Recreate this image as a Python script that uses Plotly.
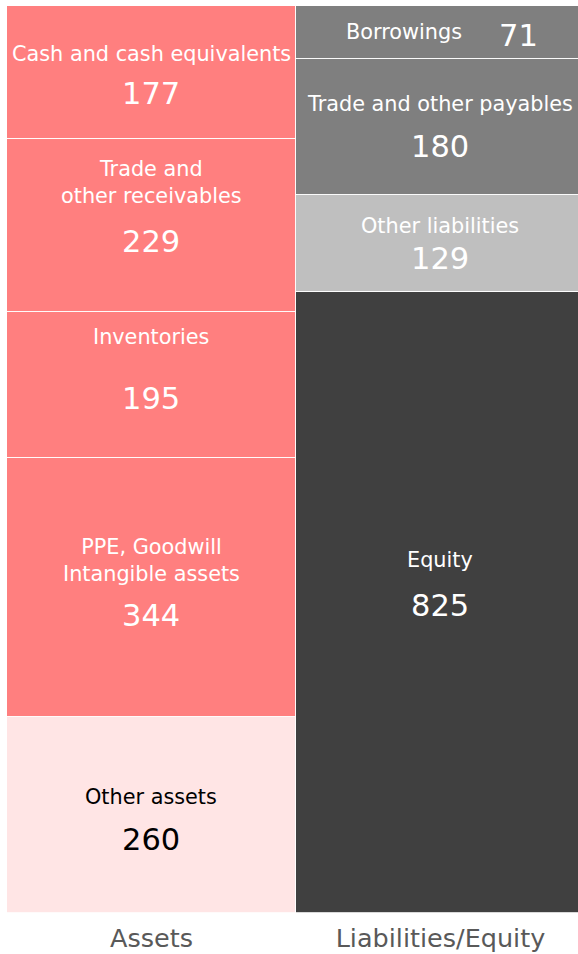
import plotly.graph_objects as go

# ---- data ----
categories = ["Assets", "Liabilities/Equity"]
asset_items = ["Cash and cash equivalents", "Trade and<br>other receivables", "Inventories",
               "PPE, Goodwill<br>Intangible assets", "Other assets"]
asset_values = [177, 229, 195, 344, 260]
liab_items = ["Borrowings", "Trade and other payables", "Other liabilities", "Equity"]
liab_values = [71, 180, 129, 825]

# ---- styles ----
asset_colors = ["#FF7F7F", "#FF7F7F", "#FF7F7F", "#FF7F7F", "#FFE5E5"]
asset_text = ["white", "white", "white", "white", "black"]
liab_colors = ["#7F7F7F", "#7F7F7F", "#BFBFBF", "#404040"]
liab_text = ["white", "white", "white", "white"]
# label positions as fraction of segment (from top): (name_frac, value_frac, name_xshift, value_xshift)
asset_pos = [(0.36, 0.66, 0, 0), (0.25, 0.593, 0, 0), (0.17, 0.59, 0, 0),
             (0.394, 0.606, 0, 0), (0.408, 0.622, 0, 0)]
liab_pos = [(0.49, 0.55, -36, 78), (0.326, 0.644, 0, 0), (0.32, 0.65, 0, 0), (0.431, 0.505, 0, 0)]

FONT = "DejaVu Sans"
NAME_SIZE = 20.8
VAL_SIZE = 30.5

fig = go.Figure()
annotations = []

def add_stack(cat, items, values, colors, tcolors, pos):
    base = 0
    for name, v, c, tc, p in zip(items, values, colors, tcolors, pos):
        fig.add_trace(go.Bar(x=[cat], y=[v], marker=dict(color=c, line=dict(color="rgba(255,255,255,0.8)", width=1)),
                             name=name.replace("<br>", " "), showlegend=False, hoverinfo="skip"))
        annotations.append(dict(x=cat, y=base + p[0] * v, text=name, showarrow=False, xshift=p[2],
                                font=dict(family=FONT, size=NAME_SIZE, color=tc), xref="x", yref="y"))
        annotations.append(dict(x=cat, y=base + p[1] * v, text=str(v), showarrow=False, xshift=p[3],
                                font=dict(family=FONT, size=VAL_SIZE, color=tc), xref="x", yref="y"))
        base += v

add_stack(categories[0], asset_items, asset_values, asset_colors, asset_text, asset_pos)
add_stack(categories[1], liab_items, liab_values, liab_colors, liab_text, liab_pos)

total = sum(asset_values)
fig.update_layout(
    width=578, height=954,
    barmode="stack", bargap=0,
    margin=dict(l=7, r=0, t=6, b=41),
    paper_bgcolor="white", plot_bgcolor="white",
    annotations=annotations,
    xaxis=dict(range=[-0.5, 1.476], showgrid=False, zeroline=False, showline=False,
               tickfont=dict(family=FONT, size=25.5, color="#595959"), automargin=False,
               ticks="outside", ticklen=2, tickcolor="rgba(0,0,0,0)"),
    yaxis=dict(range=[total, 0], visible=False, showgrid=False, zeroline=False),
    font=dict(family=FONT),
)
fig.write_html("out.html", config={"displayModeBar": False},
               post_script="document.body.style.margin='0';")
